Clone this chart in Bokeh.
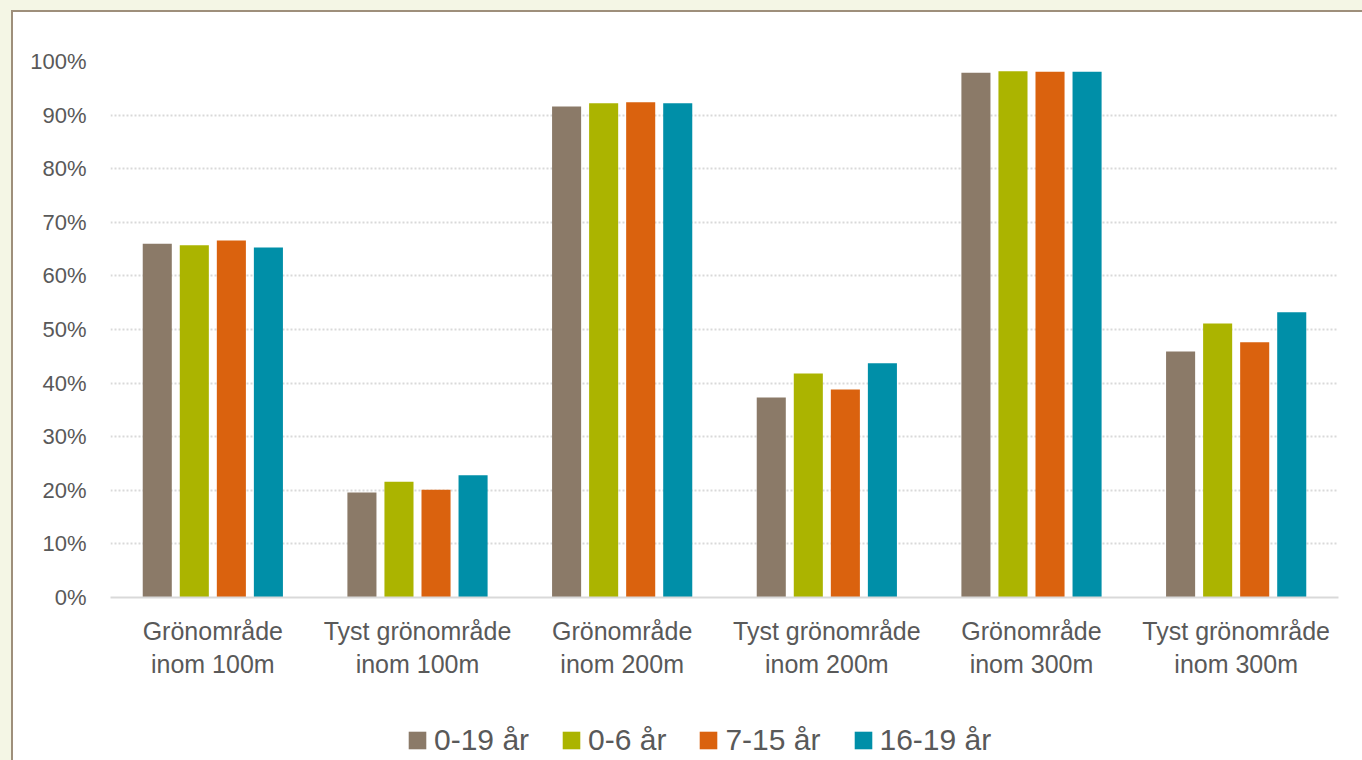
from bokeh.plotting import figure
from bokeh.models import (ColumnDataSource, FixedTicker, PrintfTickFormatter,
                          Legend, LegendItem, Range1d)
from bokeh.transform import dodge
from bokeh.layouts import column
from bokeh.embed import file_html
from bokeh.resources import INLINE

# Andel barn med grönområde inom avstånd, per åldersgrupp (%)
categories = [
    "Grönområde\ninom 100m",
    "Tyst grönområde\ninom 100m",
    "Grönområde\ninom 200m",
    "Tyst grönområde\ninom 200m",
    "Grönområde\ninom 300m",
    "Tyst grönområde\ninom 300m",
]
series_names = ["0-19 år", "0-6 år", "7-15 år", "16-19 år"]
v_0_19 = [66.0, 19.6, 91.6, 37.3, 97.9, 45.9]
v_0_6 = [65.7, 21.6, 92.2, 41.8, 98.2, 51.1]
v_7_15 = [66.6, 20.1, 92.4, 38.8, 98.1, 47.6]
v_16_19 = [65.3, 22.8, 92.2, 43.7, 98.1, 53.2]
series_values = [v_0_19, v_0_6, v_7_15, v_16_19]
colors = ["#8B7A68", "#ABB400", "#DA620E", "#008FA8"]
y_ticks = list(range(0, 101, 10))

FONT = "Liberation Sans"
TEXT = "#595959"
GRID = "#D9D9D9"

# the white panel runs past the right and bottom edges of the page
W = 1370
H_MAIN = 703
H_LEG = 70
BORDER_L = 97
BORDER_R = W - 1325

p = figure(width=W, height=H_MAIN,
           x_range=Range1d(-0.5, len(categories) - 0.5),
           y_range=Range1d(0, 100),
           output_backend="svg", toolbar_location=None,
           min_border_left=BORDER_L, min_border_right=BORDER_R,
           min_border_top=49, min_border_bottom=H_MAIN - 585,
           background_fill_color="white", border_fill_color="white",
           outline_line_color=None)

src = ColumnDataSource(dict(x=list(range(len(categories))),
                            **{f"s{i}": vals for i, vals in enumerate(series_values)}))

step = 0.181
bar_w = 0.142
for i, col in enumerate(colors):
    p.vbar(x=dodge("x", (i - 1.5) * step, range=p.x_range), top=f"s{i}",
           width=bar_w, source=src, fill_color=col, line_color=None)

# axes
p.xaxis.ticker = FixedTicker(ticks=list(range(len(categories))))
p.xaxis.major_label_overrides = {i: c for i, c in enumerate(categories)}
p.xaxis.axis_line_color = GRID
p.xaxis.axis_line_width = 2
p.xaxis.major_tick_line_color = None
p.xaxis.minor_tick_line_color = None
p.xaxis.major_label_text_font = FONT
p.xaxis.major_label_text_font_size = "25px"
p.xaxis.major_label_text_color = TEXT
p.xaxis.major_label_standoff = 13

p.yaxis.ticker = FixedTicker(ticks=y_ticks)
p.yaxis.formatter = PrintfTickFormatter(format="%d%%")
p.yaxis.axis_line_color = None
p.yaxis.major_tick_line_color = None
p.yaxis.minor_tick_line_color = None
p.yaxis.major_label_text_font = FONT
p.yaxis.major_label_text_font_size = "22px"
p.yaxis.major_label_text_color = TEXT
p.yaxis.major_label_standoff = 18

p.xgrid.grid_line_color = None
p.ygrid.grid_line_color = GRID
p.ygrid.grid_line_width = 2
p.ygrid.grid_line_dash = "2 2"

# legend strip under the chart; its swatch renderers have zero height
q = figure(width=W, height=H_LEG, x_range=Range1d(0, 1), y_range=Range1d(0, 1),
           x_axis_type=None, y_axis_type=None,
           output_backend="svg", toolbar_location=None,
           min_border_left=BORDER_L, min_border_right=BORDER_R,
           min_border_top=0, min_border_bottom=0,
           background_fill_color="white",
           border_fill_color="white", outline_line_color=None)
q.xgrid.grid_line_color = None
q.ygrid.grid_line_color = None
items = []
for name, col in zip(series_names, colors):
    r = q.vbar(x=[0.5], top=[0], bottom=[0], width=0.1,
               fill_color=col, line_color=None)
    items.append(LegendItem(label=name, renderers=[r]))

legend = Legend(items=items, orientation="horizontal", location=(296, 28),
                spacing=31, label_standoff=6, glyph_width=22, glyph_height=22,
                padding=0, margin=0, border_line_color=None,
                background_fill_alpha=0,
                label_text_font=FONT, label_text_font_size="30px",
                label_text_color=TEXT)
q.add_layout(legend, "center")

panel = column(p, q, spacing=0, margin=(10, 0, 0, 11),
               styles={"border-top": "2px solid #9E8F7B",
                       "border-left": "2px solid #9E8F7B",
                       "background-color": "white"})
page = column(panel, styles={"background-color": "#F4F6E5"})

open("out.html", "w").write(file_html(page, INLINE))
